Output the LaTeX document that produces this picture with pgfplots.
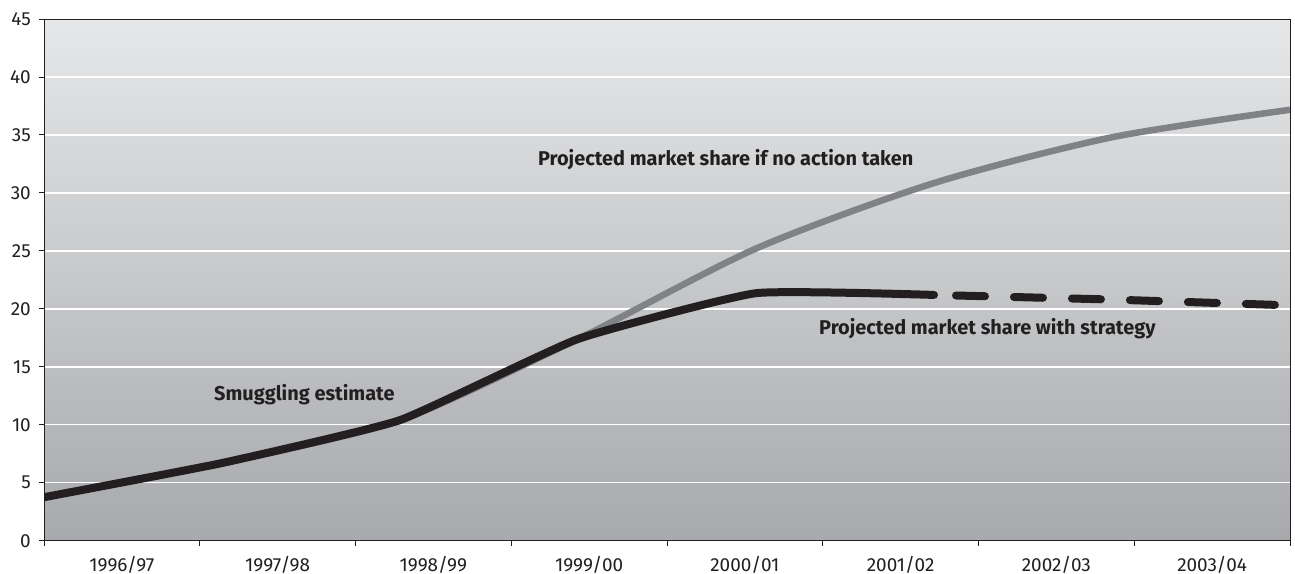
\documentclass[border=0pt]{standalone}
\usepackage{fontspec}
\setmainfont{Fira Sans}
\usepackage{pgfplots}
\pgfplotsset{compat=1.18}
\definecolor{txt}{HTML}{231F20}
\definecolor{grayline}{HTML}{808285}
\definecolor{bgtop}{HTML}{E6E7E8}
\definecolor{bgbot}{HTML}{A7A9AC}
\begin{document}
\begin{tikzpicture}
\path[use as bounding box] (-44bp,-33.3bp) rectangle (1251bp,540.7bp);
\begin{axis}[
  at={(0,0)}, anchor=south west,
  scale only axis, width=1246bp, height=521.7bp,
  xmin=0, xmax=7, ymin=0, ymax=45,
  ytick={0,5,10,15,20,25,30,35,40,45},
  xtick={0.4375,1.3125,2.1875,3.0625,3.9375,4.8125,5.6875,6.5625},
  xticklabels={1996/97,1997/98,1998/99,1999/00,2000/01,2001/02,2002/03,2003/04},
  minor xtick={0,0.875,1.75,2.625,3.5,4.375,5.25,6.125,7},
  xtick pos=lower, ytick pos=left,
  tick align=outside,
  major tick length=5bp, minor tick length=5bp,
  x tick style={draw=none},
  minor x tick style={draw=txt, line width=0.9bp},
  y tick style={draw=txt, line width=0.9bp},
  ymajorgrids, major grid style={white, line width=1.4bp},
  axis line style={txt, line width=0.9bp},
  ticklabel style={font=\fontsize{19}{21}\selectfont, text=txt},
  yticklabel style={inner sep=2bp, xshift=-6bp},
  xticklabel style={inner sep=0bp, yshift=-10bp},
  /pgf/number format/assume math mode=true,
  axis background/.style={top color=bgtop, bottom color=bgbot},
]
\addplot[grayline, line width=6.5bp, smooth, tension=0.45] coordinates {
  (0,3.75) (1,6.7) (2,10.4) (3,17.4) (4,25.2) (5,30.85) (6,34.8) (7,37.17)
};
\addplot[txt, line width=8bp, smooth, tension=0.25, line cap=round, line join=round] coordinates {
  (0,3.75) (1,6.7) (2,10.4) (3,17.4) (4,21.35) (5,21.2)
};
\addplot[txt, line width=8bp, line cap=round, dash pattern=on 29bp off 29bp, dash phase=36bp] coordinates {
  (5,21.2) (6,20.8) (7,20.3)
};
\node[font=\fontsize{20}{22}\selectfont\bfseries, text=txt] at (axis cs:3.83,32.85) {Projected market share if no action taken};
\node[font=\fontsize{20}{22}\selectfont\bfseries, text=txt] at (axis cs:5.30,18.28) {Projected market share with strategy};
\node[font=\fontsize{20}{22}\selectfont\bfseries, text=txt] at (axis cs:1.463,12.57) {Smuggling estimate};
\end{axis}
\end{tikzpicture}
\end{document}
